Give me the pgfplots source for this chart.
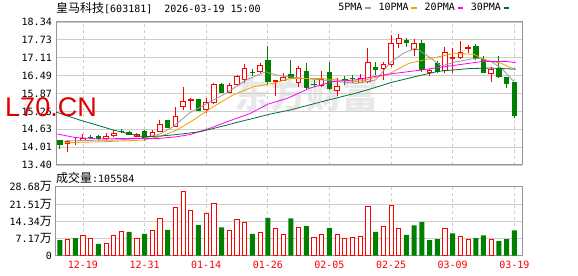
\documentclass[border=0pt]{standalone}
\usepackage{fontspec}
\usepackage{pgfplots}
\pgfplotsset{compat=1.18}
\usepackage{pgfplotstable}
\setmainfont{DejaVu Sans Mono}
\newfontfamily\cjk{Noto Sans CJK SC}
\newfontfamily\wm{Liberation Sans}
\definecolor{kred}{RGB}{255,0,0}
\definecolor{kgreen}{RGB}{0,128,0}
\definecolor{ma5}{RGB}{153,153,153}
\definecolor{ma10}{RGB}{240,160,0}
\definecolor{ma20}{RGB}{255,0,255}
\definecolor{ma30}{RGB}{0,110,50}
\definecolor{framec}{RGB}{150,150,150}
\definecolor{gridc}{RGB}{205,205,205}
\newcommand{\fs}{\fontsize{10bp}{12bp}\selectfont}
\newcommand{\cj}[1]{{\fontsize{12bp}{14bp}\selectfont\cjk #1}}

% up candles (close > open)
\pgfplotstableread{
i O H L C
1 14.13 14.28 13.84 14.23
2 14.15 14.32 14.09 14.20
3 14.24 14.46 14.22 14.34
6 14.30 14.52 14.28 14.41
7 14.40 14.61 14.38 14.52
10 14.38 14.50 14.36 14.47
12 14.38 14.60 14.36 14.55
13 14.55 14.95 14.53 14.81
15 14.72 15.39 14.70 15.10
16 15.41 16.10 15.30 15.60
17 15.60 15.70 15.30 15.67
19 15.30 15.70 15.19 15.57
20 15.53 16.24 15.51 16.19
22 15.90 16.22 15.88 16.16
23 16.16 16.50 16.14 16.48
24 16.34 16.88 16.22 16.74
26 16.62 16.91 16.57 16.85
28 16.27 16.35 15.79 16.34
29 16.31 16.59 16.30 16.43
31 16.22 16.82 16.09 16.74
34 16.13 16.63 16.11 16.36
36 15.96 16.41 15.77 16.13
39 16.24 16.54 16.22 16.39
40 16.26 17.45 16.22 16.95
42 16.72 16.97 16.34 16.88
43 16.85 17.89 16.80 17.60
44 17.58 17.93 17.43 17.78
46 17.37 17.75 17.15 17.61
48 16.58 16.70 16.47 16.68
50 16.66 17.49 16.57 17.29
51 17.07 17.43 16.57 17.14
52 17.09 17.68 17.07 17.31
53 17.40 17.55 17.26 17.47
56 16.53 16.80 16.28 16.72
}\upc

% down candles (close < open)
\pgfplotstableread{
i O H L C
0 14.26 14.28 13.94 14.09
4 14.36 14.45 14.30 14.33
5 14.40 14.42 14.28 14.30
8 14.57 14.63 14.49 14.54
9 14.53 14.56 14.42 14.44
11 14.57 14.60 14.24 14.30
14 14.95 14.97 14.67 14.69
18 15.67 15.69 15.26 15.28
21 16.19 16.22 15.88 15.90
25 16.60 16.71 16.47 16.57
27 17.03 17.52 16.16 16.26
30 16.54 17.03 16.36 16.40
32 16.65 16.92 16.03 16.05
33 16.21 16.35 16.09 16.18
35 16.62 16.96 15.99 16.01
37 16.36 16.47 16.18 16.33
38 16.39 16.51 16.23 16.36
41 16.80 16.97 16.51 16.68
45 17.72 17.78 17.49 17.60
47 17.62 17.72 16.61 16.68
49 16.91 16.99 16.58 16.60
54 17.52 17.57 17.03 17.05
55 17.05 17.17 16.57 16.59
57 16.76 17.17 16.41 16.43
58 16.43 16.45 16.05 16.20
59 16.26 16.28 15.03 15.09
}\dnc

% volume (10k shares), red bars
\pgfplotstableread{
i v
1 6.82
3 8.45
4 7.23
6 5.19
7 8.45
8 10.09
10 7.23
12 10.60
13 15.50
15 20.10
16 26.74
17 18.87
19 17.65
20 21.83
22 10.60
23 15.09
24 13.87
26 9.68
28 11.42
29 8.86
31 11.82
33 7.64
34 8.86
36 8.86
37 7.23
38 7.64
39 8.05
40 20.51
42 12.23
43 20.92
44 11.42
50 11.42
52 8.05
53 6.92
56 6.82
}\upv

% volume, green bars
\pgfplotstableread{
i v
0 6.51
2 7.33
5 4.88
9 9.88
11 9.07
14 10.70
18 12.74
21 11.82
25 9.07
27 15.70
30 15.50
32 12.34
35 11.52
41 9.88
45 8.66
46 12.64
47 13.97
48 6.51
49 6.92
51 9.27
54 7.33
55 8.45
57 6.10
58 6.92
59 10.5584
}\dnv

\pgfplotsset{
  kbase/.style={
    scale only axis, width=466bp,
    xmin=-0.5, xmax=60,
    axis line style={draw=framec, line width=1bp},
    xtick={3,11,19,27,35,43,51,59},
    xmajorgrids, ymajorgrids,
    x grid style={gridc, dash pattern=on 3bp off 3bp, line width=0.8bp},
    y grid style={gridc, line width=0.8bp},
    major tick length=0pt,
    tick label style={font=\fs, inner sep=0pt},
    yticklabel style={xshift=-4bp},
    /pgf/number format/assume math mode=true,
  },
}

\begin{document}
\begin{tikzpicture}
\useasboundingbox (0,0) rectangle (578bp,276bp);

\node[font=\cjk\bfseries\fontsize{36bp}{38bp}\selectfont, text=black!9, inner sep=0pt] at (306bp,181bp) {东方财富};

% price panel
\begin{axis}[kbase,
  at={(56bp,111bp)}, anchor=south west, height=143bp,
  ymin=13.40, ymax=18.34,
  ytick={13.40,14.0175,14.635,15.2525,15.87,16.4875,17.105,17.7225,18.34},
  yticklabels={13.40,14.01,14.63,15.25,15.87,16.49,17.11,17.73,18.34},
  xticklabels={},
  legend columns=4, legend plot pos=right,
  legend style={at={(0.976,1.098)}, anchor=east, draw=none, fill=none,
    inner sep=0pt, font=\fs, nodes={inner sep=1.5bp},
    /tikz/every even column/.append style={column sep=5bp}},
  legend image code/.code={\draw[line width=2.6bp] (0bp,0bp) -- (5.5bp,0bp);},
]
% up candles: wick, red body, white inside
\addplot[forget plot, draw=none, mark=none, error bars/.cd, y dir=plus, y explicit, error mark=none,
  error bar style={draw=kred, line width=1bp}]
  table[x=i, y=L, y error expr={\thisrow{H}-\thisrow{L}}] {\upc};
\addplot[forget plot, draw=none, mark=none, error bars/.cd, y dir=plus, y explicit, error mark=none,
  error bar style={draw=kred, line width=5.5bp}]
  table[x=i, y=O, y error expr={\thisrow{C}-\thisrow{O}}] {\upc};
\addplot[forget plot, draw=none, mark=none, error bars/.cd, y dir=plus, y explicit, error mark=none,
  error bar style={draw=white, line width=3.5bp}]
  table[x=i, y expr={\thisrow{O}+0.035}, y error expr={max(\thisrow{C}-\thisrow{O}-0.07,0)}] {\upc};
% down candles: wick, green body
\addplot[forget plot, draw=none, mark=none, error bars/.cd, y dir=plus, y explicit, error mark=none,
  error bar style={draw=kgreen, line width=1bp}]
  table[x=i, y=L, y error expr={\thisrow{H}-\thisrow{L}}] {\dnc};
\addplot[forget plot, draw=none, mark=none, error bars/.cd, y dir=plus, y explicit, error mark=none,
  error bar style={draw=kgreen, line width=5.5bp}]
  table[x=i, y=C, y error expr={\thisrow{O}-\thisrow{C}}] {\dnc};

% moving averages
\addplot[ma5, line width=0.8bp, no marks] coordinates {
(0.5,14.23) (3.9,14.25) (6.9,14.26) (10.8,14.32) (13.0,14.47) (14.7,14.72)
(16.9,15.21) (19.5,15.58) (21.6,15.88) (24.2,16.34) (26.7,16.62) (28.1,16.51)
(29.6,16.45) (33.9,16.34) (38.4,16.22) (41.0,16.34) (43.0,16.96) (44.6,17.26)
(46.2,17.44) (47.9,17.14) (49.5,16.82) (51.4,16.96) (53.4,17.06) (54.7,17.09)
(56.0,16.97) (57.3,16.75) (59.0,16.27)};
\addlegendentry{5PMA}
\addplot[ma10, line width=0.8bp, no marks] coordinates {
(0.5,14.17) (5.2,14.20) (10.8,14.26) (13.0,14.38) (15.2,14.61) (17.3,14.95)
(19.9,15.41) (22.5,15.82) (25.1,16.10) (27.7,16.22) (29.9,16.39) (33.9,16.39)
(38.4,16.28) (39.7,16.34) (42.7,16.54) (45.3,16.91) (49.2,17.14) (51.2,17.26)
(53.8,17.22) (55.1,17.03) (57.3,16.91) (59.0,16.71)};
\addlegendentry{10PMA}
\addplot[ma20, line width=0.8bp, no marks] coordinates {
(-0.3,14.47) (1.95,14.35) (5.2,14.30) (9.1,14.32) (13.0,14.32) (15.0,14.37)
(16.9,14.45) (19.5,14.67) (22.5,14.97) (24.7,15.18) (27.0,15.50) (29.6,15.71)
(32.4,16.05) (35.4,16.28) (38.4,16.34) (42.7,16.54) (46.9,16.68) (51.4,16.85)
(54.7,16.97) (57.9,16.98) (59.2,16.93)};
\addlegendentry{20PMA}
\addplot[ma30, line width=0.8bp, no marks] coordinates {
(-0.5,15.23) (2.6,14.95) (5.2,14.75) (6.9,14.61) (9.1,14.47) (10.8,14.38)
(13.0,14.40) (14.7,14.44) (16.4,14.49) (18.2,14.55) (19.9,14.66) (21.7,14.78)
(23.4,14.90) (25.1,15.01) (27.3,15.16) (29.9,15.30) (33.9,15.58) (38.4,15.88)
(41.0,16.08) (43.0,16.25) (46.9,16.50) (49.2,16.64) (53.1,16.73) (56.0,16.75)
(59.2,16.71)};
\addlegendentry{30PMA}
\end{axis}

% volume panel
\begin{axis}[kbase,
  at={(56bp,20.3bp)}, anchor=south west, height=69bp,
  ymin=0, ymax=28.68,
  ytick={0,7.17,14.34,21.51,28.68},
  yticklabels={0,{7.17\cj{万}},{14.34\cj{万}},{21.51\cj{万}},{28.68\cj{万}}},
  xticklabels={12-19,12-31,01-14,01-26,02-05,02-25,03-09,03-19},
  xticklabel style={text=kred, anchor=north, yshift=-5.5bp},
]
\addplot[forget plot, ybar, bar width=4.2bp, bar shift=0pt, draw=kred, fill=white, line width=0.9bp] table[x=i, y=v] {\upv};
\addplot[forget plot, ybar, bar width=5bp, bar shift=0pt, draw=none, fill=kgreen] table[x=i, y=v] {\dnv};
\end{axis}

\node[anchor=west, inner sep=0pt, font=\fs] at (56bp,268bp) {\cj{皇马科技}[603181]~~2026-03-19~15:00};
\node[anchor=west, inner sep=0pt, font=\fs] at (56bp,98bp) {\cj{成交量}:105584};
\node[font=\wm\fontsize{27bp}{30bp}\selectfont, text=kred!88!black, inner sep=0pt] at (51bp,169bp) {L70.CN};
\end{tikzpicture}
\end{document}
